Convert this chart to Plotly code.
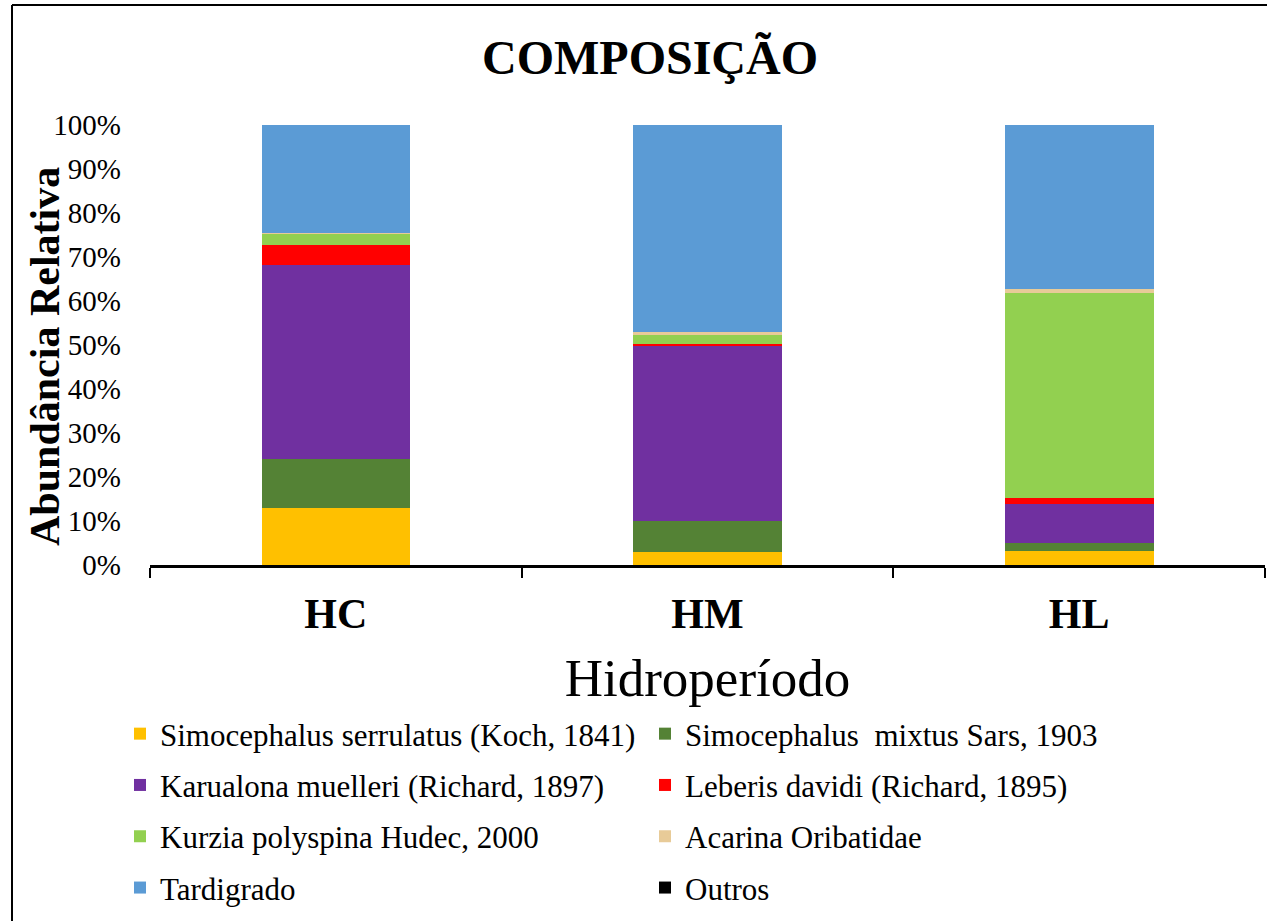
import plotly.graph_objects as go

FONT = "Liberation Serif"

categories = ["HC", "HM", "HL"]

species = [
    "Simocephalus serrulatus (Koch, 1841)",
    "Simocephalus  mixtus Sars, 1903",
    "Karualona muelleri (Richard, 1897)",
    "Leberis davidi (Richard, 1895)",
    "Kurzia polyspina Hudec, 2000",
    "Acarina Oribatidae",
    "Tardigrado",
    "Outros",
]

# relative abundance (%) per hydroperiod
s_serrulatus = [13.0, 2.9, 3.1]
s_mixtus = [11.2, 7.0, 2.0]
k_muelleri = [44.0, 39.8, 8.8]
l_davidi = [4.5, 0.6, 1.3]
k_polyspina = [2.6, 1.9, 46.7]
acarina = [0.2, 0.8, 0.8]
tardigrado = [24.5, 47.0, 37.3]
outros = [0.0, 0.0, 0.0]

series = [s_serrulatus, s_mixtus, k_muelleri, l_davidi, k_polyspina, acarina, tardigrado, outros]
colors = ["#FFC000", "#548235", "#7030A0", "#FF0000", "#92D050", "#E8CB98", "#5B9BD5", "#000000"]

fig = go.Figure()
for i, (name, vals, col) in enumerate(zip(species, series, colors)):
    fig.add_trace(
        go.Bar(
            x=categories,
            y=vals,
            name=name,
            legend="legend" if i % 2 == 0 else "legend2",
            legendgroup=f"g{i}",
            marker={"color": col, "line": {"width": 0}},
        )
    )

W, H = 1267, 921
L, R, T, B = 150, 2, 125, 356
pw, ph = W - L - R, H - T - B


def px_x(x):
    return (x - L) / pw


def px_y(y):
    return (H - B - y) / ph


legend_style = {
    "orientation": "v",
    "xanchor": "left",
    "yanchor": "top",
    "y": px_y(707),
    "font": {"size": 31, "family": FONT, "color": "black"},
    "traceorder": "grouped",
    "tracegroupgap": 8,
    "bgcolor": "rgba(0,0,0,0)",
}

fig.update_layout(
    width=W,
    height=H,
    barmode="stack",
    barnorm="percent",
    bargap=0.6,
    margin={"l": L, "r": R, "t": T, "b": B},
    paper_bgcolor="white",
    plot_bgcolor="white",
    font={"family": FONT, "color": "black", "size": 29},
    title={
        "text": "<b>COMPOSIÇÃO</b>",
        "x": 650 / W,
        "xanchor": "center",
        "y": 1 - 57 / H,
        "yanchor": "middle",
        "font": {"size": 48, "family": FONT},
    },
    legend={**legend_style, "x": px_x(120)},
    legend2={**legend_style, "x": px_x(645)},
    showlegend=True,
)

fig.update_xaxes(
    type="category",
    showline=True,
    linecolor="black",
    linewidth=3,
    ticks="outside",
    tickson="boundaries",
    ticklen=10,
    tickwidth=2,
    tickcolor="black",
    tickfont={"size": 42, "family": FONT, "weight": "bold"},
    ticklabelstandoff=10,
    showgrid=False,
    title={"text": "Hidroperíodo", "font": {"size": 53, "family": FONT}, "standoff": 23},
)
fig.update_yaxes(
    range=[0, 100],
    dtick=10,
    ticksuffix="%",
    showgrid=False,
    showline=False,
    zeroline=False,
    ticks="",
    ticklabelstandoff=28,
    tickfont={"size": 29, "family": FONT},
)

fig.add_annotation(
    text="<b>Abundância Relativa</b>",
    textangle=-90,
    xref="paper",
    yref="paper",
    x=px_x(45),
    y=px_y(357),
    xanchor="center",
    yanchor="middle",
    showarrow=False,
    font={"size": 42, "family": FONT},
)

# chart frame (left and top edges visible)
fig.add_shape(type="line", xref="paper", yref="paper",
              x0=px_x(12), x1=px_x(12), y0=px_y(5), y1=px_y(H + 5),
              line={"color": "black", "width": 2})
fig.add_shape(type="line", xref="paper", yref="paper",
              x0=px_x(12), x1=px_x(W + 5), y0=px_y(5), y1=px_y(5),
              line={"color": "black", "width": 2})

fig.write_html(
    "out.html",
    config={"displayModeBar": False},
    post_script="document.body.style.margin='0';",
)
